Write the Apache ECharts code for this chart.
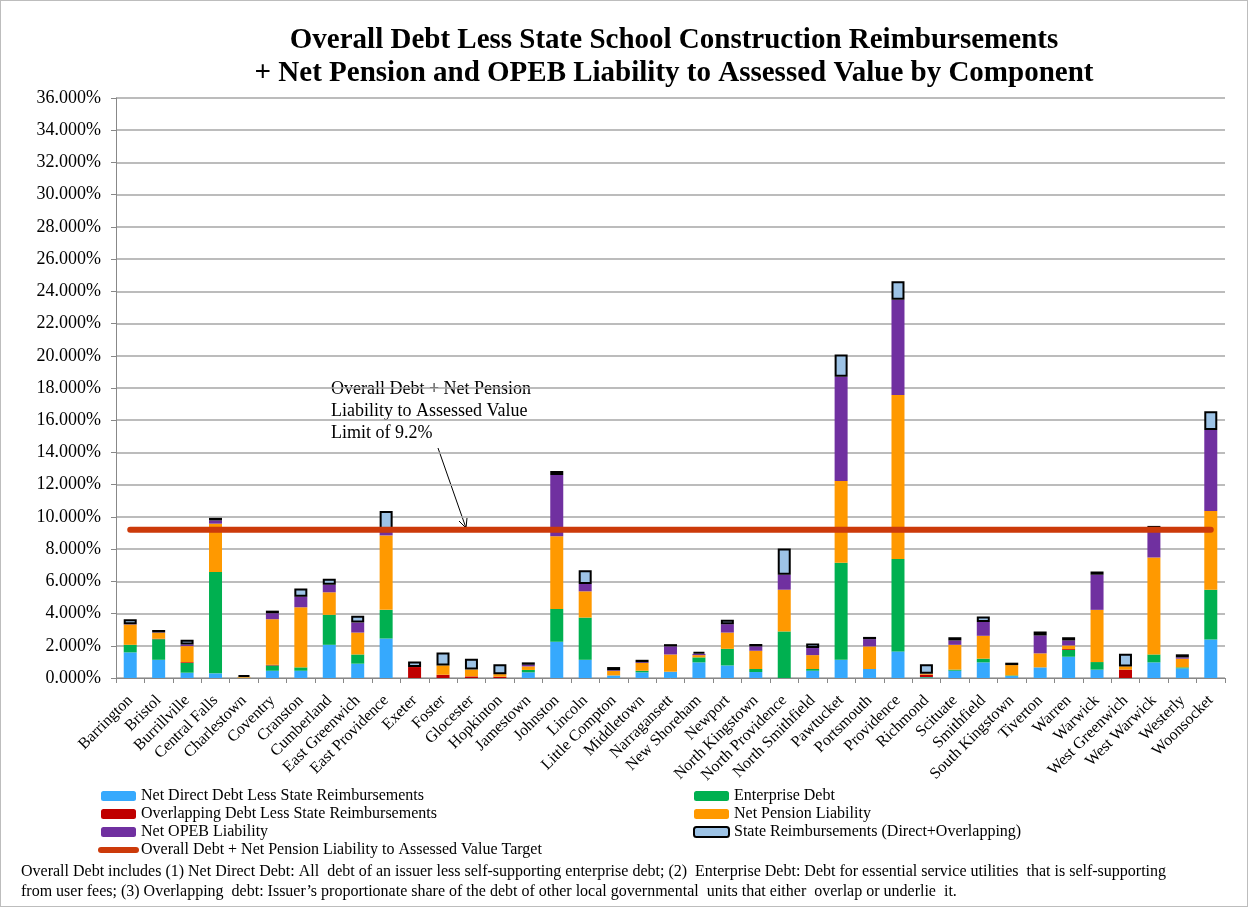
<!DOCTYPE html>
<html><head><meta charset="utf-8">
<script src="https://cdn.jsdelivr.net/npm/echarts@6/dist/echarts.min.js"></script>
<style>html,body{margin:0;padding:0;background:#fff}#c{width:1246px;height:905px;border:1px solid #bdbdbd}</style>
</head><body><div id="c"></div>
<script>
const categories = ["Barrington","Bristol","Burrillville","Central Falls","Charlestown","Coventry","Cranston","Cumberland","East Greenwich","East Providence","Exeter","Foster","Glocester","Hopkinton","Jamestown","Johnston","Lincoln","Little Compton","Middletown","Narragansett","New Shoreham","Newport","North Kingstown","North Providence","North Smithfield","Pawtucket","Portsmouth","Providence","Richmond","Scituate","Smithfield","South Kingstown","Tiverton","Warren","Warwick","West Greenwich","West Warwick","Westerly","Woonsocket"];
const netDirect   = [1.59,1.13,0.33,0.29,0.02,0.45,0.45,2.06,0.89,2.45,0.00,0.00,0.00,0.00,0.35,2.25,1.13,0.16,0.35,0.39,0.97,0.78,0.37,0.00,0.45,1.13,0.56,1.65,0.03,0.45,0.97,0.12,0.66,1.32,0.52,0.00,0.97,0.60,2.39];
const enterprise  = [0.47,1.28,0.60,6.29,0.00,0.33,0.21,1.86,0.57,1.78,0.00,0.00,0.00,0.00,0.15,2.04,2.62,0.00,0.10,0.00,0.31,1.03,0.19,2.89,0.11,6.02,0.00,5.73,0.03,0.07,0.23,0.04,0.00,0.43,0.47,0.00,0.49,0.06,3.09];
const overlapping = [0.00,0.03,0.05,0.00,0.00,0.04,0.00,0.00,0.00,0.00,0.68,0.20,0.10,0.08,0.00,0.00,0.00,0.00,0.00,0.00,0.00,0.00,0.00,0.00,0.00,0.00,0.00,0.00,0.15,0.00,0.00,0.00,0.00,0.05,0.00,0.52,0.00,0.00,0.00];
const netPension  = [1.26,0.37,1.00,3.00,0.05,2.83,3.73,1.40,1.36,4.62,0.00,0.58,0.42,0.16,0.22,4.51,1.63,0.28,0.48,1.07,0.14,1.01,1.13,2.59,0.86,5.08,1.40,10.18,0.05,1.54,1.42,0.64,0.87,0.22,3.24,0.20,6.02,0.54,4.89];
const netOPEB     = [0.02,0.02,0.10,0.20,0.00,0.37,0.66,0.47,0.62,0.20,0.00,0.00,0.00,0.00,0.10,3.80,0.46,0.04,0.05,0.50,0.08,0.52,0.27,0.93,0.44,6.47,0.45,5.92,0.00,0.27,0.86,0.00,1.11,0.31,2.18,0.00,1.80,0.08,5.03];
const stateReimb  = [0.30,0.15,0.30,0.16,0.12,0.16,0.50,0.37,0.43,1.32,0.35,0.80,0.68,0.62,0.15,0.25,0.85,0.20,0.15,0.14,0.12,0.27,0.15,1.63,0.28,1.38,0.14,1.15,0.60,0.20,0.33,0.15,0.25,0.20,0.20,0.78,0.16,0.19,1.16];
const targetValue = 9.2;
const targetLine = categories.map(() => targetValue);
const yTicks = {min: 0, max: 36, interval: 2};

const serif = '"Liberation Serif","Times New Roman",serif';
const chart = echarts.init(document.getElementById('c'));
const bar = (name, data, color, extra) => Object.assign({
  name, type: 'bar', stack: 'total', data, barWidth: 13,
  itemStyle: {color}, emphasis: {disabled: true}
}, extra || {});
const LINE_NAME = 'Overall Debt + Net Pension Liability to Assessed Value Target';
const legendText = {fontFamily: serif, fontSize: 16, color: '#000'};

chart.setOption({
  animation: false,
  textStyle: {fontFamily: serif},
  title: {
    text: 'Overall Debt Less State School Construction Reimbursements\n+ Net Pension and OPEB Liability to Assessed Value by Component',
    left: 668, top: 18, textAlign: 'center',
    textStyle: {fontFamily: serif, fontSize: 29, fontWeight: 'bold', color: '#000', lineHeight: 33}
  },
  grid: {left: 115, right: 22, top: 97, bottom: 228},
  xAxis: {
    type: 'category', data: categories,
    axisLine: {lineStyle: {color: '#888'}},
    axisTick: {show: true, length: 5, lineStyle: {color: '#888'}},
    axisLabel: {rotate: 45, fontSize: 16, color: '#000', fontFamily: serif, interval: 0, margin: 20}
  },
  yAxis: {
    type: 'value', min: yTicks.min, max: yTicks.max, interval: yTicks.interval,
    axisLine: {show: true, lineStyle: {color: '#888'}},
    axisTick: {show: true, length: 5, lineStyle: {color: '#888'}},
    splitLine: {lineStyle: {color: '#a6a6a6', width: 1.5}},
    axisLabel: {fontSize: 18, color: '#000', fontFamily: serif, margin: 15, formatter: v => v.toFixed(3) + '%'}
  },
  legend: [
    {data: ['Net Direct Debt Less State Reimbursements','Overlapping Debt Less State Reimbursements','Net OPEB Liability',
            {name: LINE_NAME, itemStyle: {opacity: 0}, lineStyle: {width: 6, cap: 'round'}}],
     orient: 'vertical', left: 92, top: 782, itemGap: 2, itemWidth: 35, itemHeight: 10,
     textStyle: legendText, selectedMode: false},
    {data: ['Enterprise Debt','Net Pension Liability','State Reimbursements (Direct+Overlapping)'],
     orient: 'vertical', left: 687, top: 782, itemGap: 2, itemWidth: 35, itemHeight: 10,
     textStyle: legendText, selectedMode: false}
  ],
  series: [
    bar('Net Direct Debt Less State Reimbursements', netDirect, '#36A9FD'),
    bar('Enterprise Debt', enterprise, '#00B050'),
    bar('Overlapping Debt Less State Reimbursements', overlapping, '#C00000'),
    bar('Net Pension Liability', netPension, '#FF9900'),
    bar('Net OPEB Liability', netOPEB, '#7030A0'),
    bar('State Reimbursements (Direct+Overlapping)', stateReimb, '#9DC3E6', {itemStyle: {color: '#9DC3E6', borderColor: '#000', borderWidth: 2}}),
    {name: LINE_NAME, type: 'line', data: targetLine,
     symbol: 'none', lineStyle: {color: '#CC3A0A', width: 6, cap: 'round'}, itemStyle: {color: '#CC3A0A'}, z: 5, emphasis: {disabled: true}}
  ],
  graphic: [
    {type: 'text', left: 330, top: 377, style: {text: 'Overall Debt + Net Pension\nLiability to Assessed Value\nLimit of 9.2%', font: '18px ' + serif, fill: '#000', lineHeight: 22}},
    {type: 'line', shape: {x1: 437, y1: 447, x2: 465, y2: 527}, style: {stroke: '#000', lineWidth: 1}},
    {type: 'polyline', shape: {points: [[458, 520], [465, 527], [466, 517]]}, style: {stroke: '#000', lineWidth: 1, fill: null}},
    {type: 'text', left: 20, top: 861, style: {text: 'Overall Debt includes (1) Net Direct Debt: All  debt of an issuer less self-supporting enterprise debt; (2)  Enterprise Debt: Debt for essential service utilities  that is self-supporting\nfrom user fees; (3) Overlapping  debt: Issuer\u2019s proportionate share of the debt of other local governmental  units that either  overlap or underlie  it.', font: '16px ' + serif, fill: '#000', lineHeight: 20}}
  ]
});
</script></body></html>
